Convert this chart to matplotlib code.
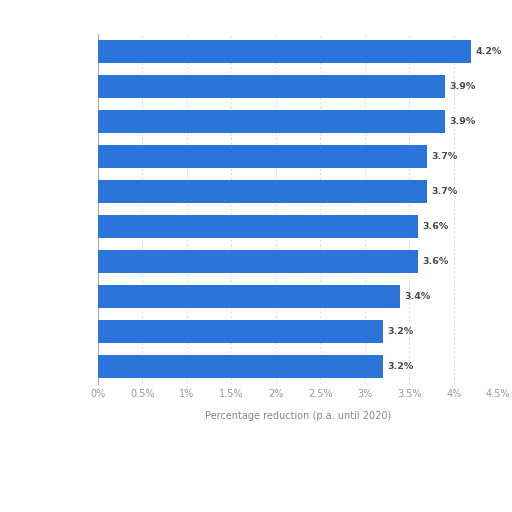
import numpy as np
import matplotlib
matplotlib.use("Agg")
import matplotlib.pyplot as plt

# category names are unreadable in the reference, so they stay blank
categories = [""] * 10
values = [4.2, 3.9, 3.9, 3.7, 3.7, 3.6, 3.6, 3.4, 3.2, 3.2]
xticks = [0, 0.5, 1, 1.5, 2, 2.5, 3, 3.5, 4, 4.5]
xtick_labels = ["0%", "0.5%", "1%", "1.5%", "2%", "2.5%", "3%", "3.5%", "4%", "4.5%"]

fig = plt.figure(figsize=(5.12, 5.12), dpi=100)
ax = fig.add_axes([0.191, 0.25, 0.782, 0.684])

y = np.arange(len(values))
ax.barh(y, values, height=0.66, color="#2a74da", zorder=3)
for yi, v in zip(y, values):
    ax.text(v + 0.05, yi, f"{v}%", va="center", ha="left",
            fontsize=6.8, fontweight="bold", color="#4a4a4a", zorder=4)

ax.set_ylim(len(values) - 0.5, -0.5)
ax.set_yticks(y)
ax.set_yticklabels(categories)
ax.set_xlim(0, 4.5)
ax.set_xticks(xticks)
ax.set_xticklabels(xtick_labels, fontsize=7, color="#999999")
ax.set_xlabel("Percentage reduction (p.a. until 2020)", fontsize=7, color="#888888", labelpad=9)

ax.grid(axis="x", linestyle=(0, (2, 2)), color="#dddddd", linewidth=0.8, zorder=0)
for s in ["top", "right", "bottom"]:
    ax.spines[s].set_visible(False)
ax.spines["left"].set_color("#aaaaaa")
ax.tick_params(axis="both", length=0)

fig.savefig("out.png", dpi=100)
